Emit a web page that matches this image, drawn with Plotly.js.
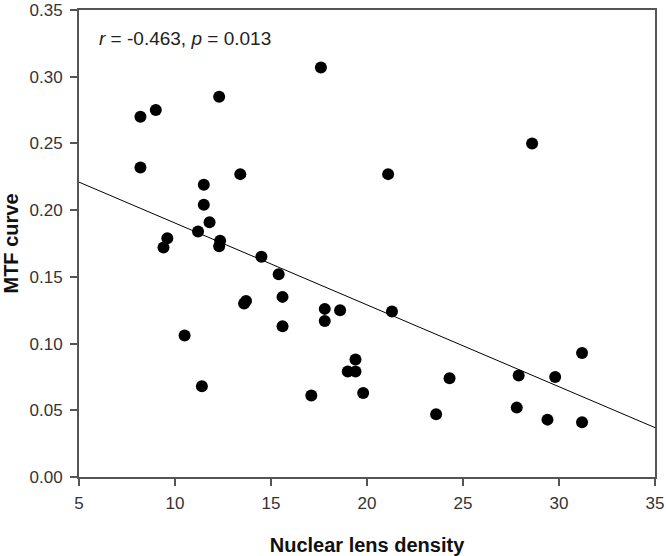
<!DOCTYPE html>
<html>
<head>
<meta charset="utf-8">
<script src="https://cdn.plot.ly/plotly-3.0.1.min.js"></script>
<style>html,body{margin:0;padding:0;background:#fff;}#chart{width:666px;height:556px;}</style>
</head>
<body>
<div id="chart"></div>
<script>
var densityX = [8.2, 8.2, 9.0, 9.4, 9.6, 10.5, 11.2, 11.5, 11.5, 11.8, 11.4, 12.3, 12.35, 12.3, 13.4, 13.6, 13.7, 14.5, 15.4, 15.6, 15.6, 17.1, 17.6, 17.8, 17.8, 18.6, 19.0, 19.4, 19.4, 19.8, 21.1, 21.3, 23.6, 24.3, 27.8, 27.9, 28.6, 29.4, 29.8, 31.2, 31.2];
var mtfY = [0.270, 0.232, 0.275, 0.172, 0.179, 0.106, 0.184, 0.219, 0.204, 0.191, 0.068, 0.285, 0.177, 0.173, 0.227, 0.130, 0.132, 0.165, 0.152, 0.135, 0.113, 0.061, 0.307, 0.126, 0.117, 0.125, 0.079, 0.088, 0.079, 0.063, 0.227, 0.124, 0.047, 0.074, 0.052, 0.076, 0.250, 0.043, 0.075, 0.093, 0.041];
var fitX = [5, 35];
var fitY = [0.221, 0.037];
var xTicks = [5, 10, 15, 20, 25, 30, 35];
var yTicks = [0, 0.05, 0.10, 0.15, 0.20, 0.25, 0.30, 0.35];
var yTickText = ['0.00', '0.05', '0.10', '0.15', '0.20', '0.25', '0.30', '0.35'];

var axisColor = '#555';
var fontFam = 'Liberation Sans, Arial, sans-serif';

var traces = [
  {x: fitX, y: fitY, mode: 'lines', type: 'scatter', line: {color: '#000', width: 1}, hoverinfo: 'skip'},
  {x: densityX, y: mtfY, mode: 'markers', type: 'scatter', marker: {color: '#000', size: 12}}
];

var layout = {
  width: 666, height: 556,
  margin: {l: 79, r: 11, t: 10, b: 79},
  paper_bgcolor: '#fff', plot_bgcolor: '#fff',
  showlegend: false,
  font: {family: fontFam, color: '#222', size: 16},
  xaxis: {
    range: [5, 35.0001], tickvals: xTicks, ticktext: xTicks.map(String),
    showgrid: false, zeroline: false, showline: true, linecolor: axisColor, linewidth: 2,
    mirror: true, ticks: 'outside', ticklen: 7, tickwidth: 2, tickcolor: axisColor,
    ticklabelstandoff: 3, ticklabeloverflow: 'allow',
    tickfont: {size: 17, family: fontFam, color: '#333'},
    title: {text: '<b>Nuclear lens density</b>', font: {size: 20, family: fontFam, color: '#111'}, standoff: 30}
  },
  yaxis: {
    range: [0, 0.35001], tickvals: yTicks, ticktext: yTickText,
    showgrid: false, zeroline: false, showline: true, linecolor: axisColor, linewidth: 2,
    mirror: true, ticks: 'outside', ticklen: 7, tickwidth: 2, tickcolor: axisColor,
    ticklabelstandoff: 4, ticklabeloverflow: 'allow',
    tickfont: {size: 17, family: fontFam, color: '#333'},
    title: {text: '<b>MTF curve</b>', font: {size: 20, family: fontFam, color: '#111'}, standoff: 12}
  },
  annotations: [{
    xref: 'paper', yref: 'paper', x: 0.031, y: 0.94, xanchor: 'left', yanchor: 'middle',
    text: '<i>r</i> = -0.463, <i>p</i> = 0.013', showarrow: false,
    font: {size: 19, family: fontFam, color: '#222'}
  }]
};

Plotly.newPlot('chart', traces, layout, {displayModeBar: false, staticPlot: true});
</script>
</body>
</html>
